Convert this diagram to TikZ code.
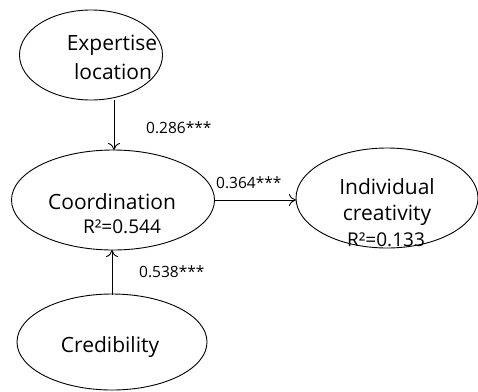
\documentclass[tikz,border=0pt]{standalone}
\usepackage{fontspec}
\setmainfont{Open Sans}
\usetikzlibrary{shapes.geometric,arrows.meta}
\begin{document}
\begin{tikzpicture}[x=1pt,y=-1pt,
  lat/.style={draw,line width=0.9pt,ellipse,inner sep=0pt},
  arr/.style={-{To[length=7pt,width=12pt]},line width=0.9pt},
  lab/.style={font=\fontsize{15.5}{17}\selectfont,inner sep=0pt},
  big/.style={font=\fontsize{21}{27}\selectfont,inner sep=0pt},
  rsq/.style={font=\fontsize{19}{22}\selectfont,inner sep=0pt}]
\useasboundingbox (0,0) rectangle (478,391);
\node[lat,minimum width=143pt,minimum height=90pt] (exp) at (91,55) {};
\node[big] (exp1) at (112,45) {Expertise};
\node[big] (exp2) at (113,72) {location};
\node[lat,minimum width=203pt,minimum height=100pt] (coo) at (113,200) {};
\node[big] (coo1) at (112,202) {Coordination};
\node[rsq] (coo2) at (122,227) {R²=0.544};
\node[lat,minimum width=190pt,minimum height=96pt] (cre) at (112,342) {};
\node[big] (cre1) at (110,347) {Credibility};
\node[lat,minimum width=182pt,minimum height=100pt] (ind) at (387,198) {};
\node[big] (ind1) at (387,187) {Individual};
\node[big] (ind2) at (387,215) {creativity};
\node[rsq] (ind3) at (386,240) {R²=0.133};
\coordinate (a1s) at (114,100);
\coordinate (a1e) at (114,150);
\draw[arr] (a1s) -- (a1e);
\coordinate (a2s) at (112,295);
\coordinate (a2e) at (112,250);
\draw[arr] (a2s) -- (a2e);
\coordinate (a3s) at (215,200);
\coordinate (a3e) at (296,200);
\draw[arr] (a3s) -- (a3e);
\node[lab,anchor=west] (l1) at (146,128) {0.286***};
\node[lab,anchor=west] (l2) at (216,183) {0.364***};
\node[lab,anchor=west] (l3) at (139,272) {0.538***};
\end{tikzpicture}
\end{document}
